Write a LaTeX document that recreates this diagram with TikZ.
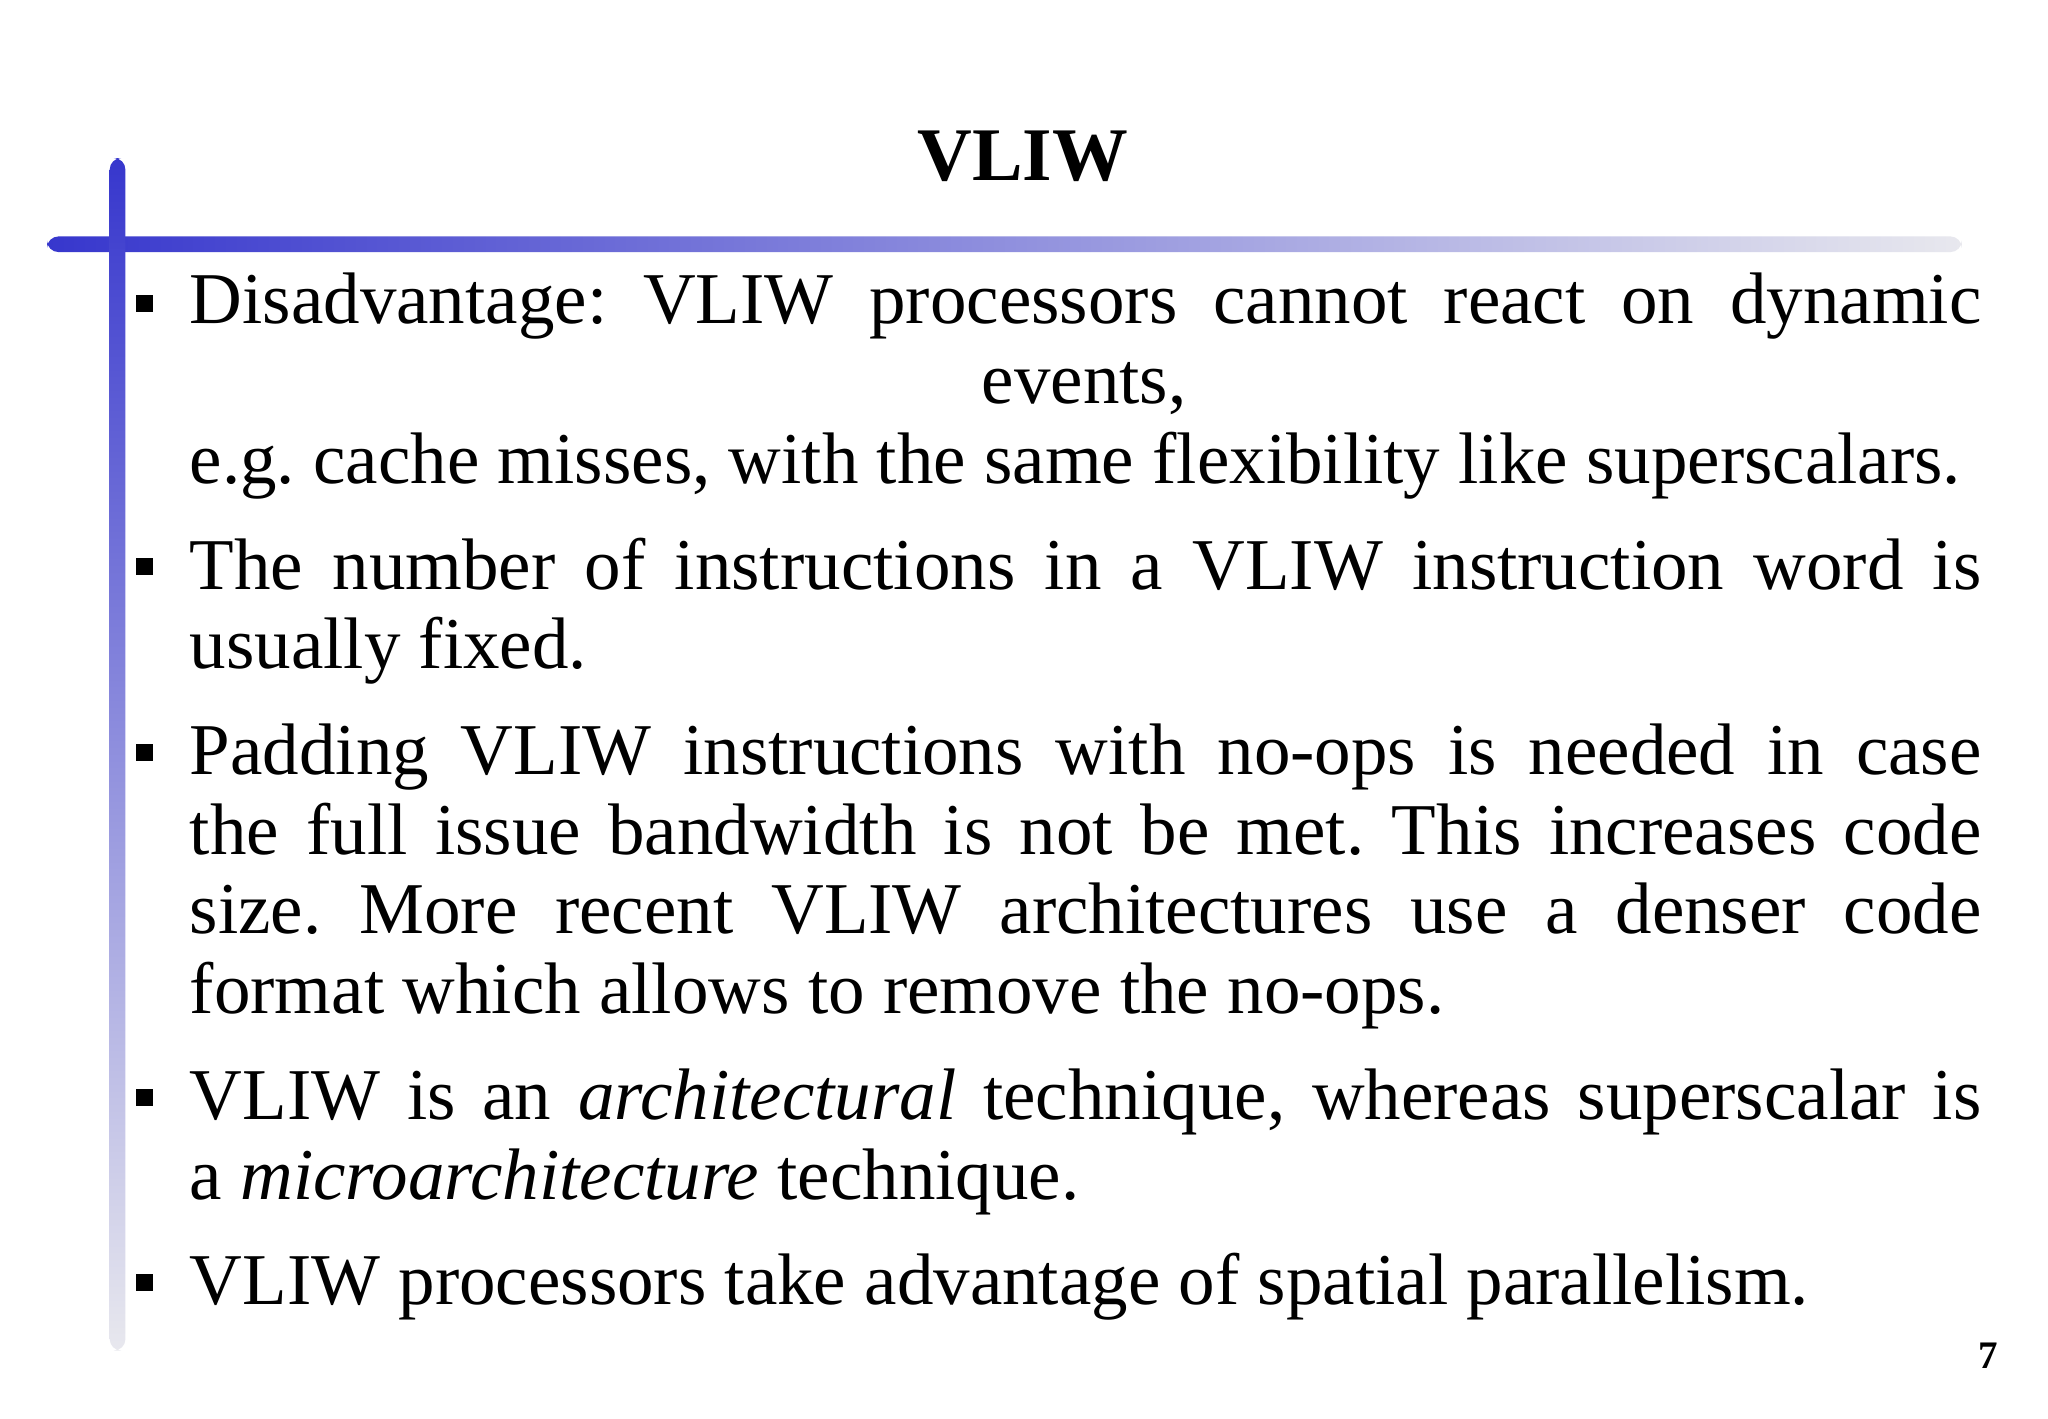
\documentclass[tikz,border=0pt]{standalone}
\usepackage{fontspec}
\setmainfont{Liberation Serif}
\definecolor{barblue}{RGB}{55,55,205}
\definecolor{barend}{RGB}{232,232,238}
\tikzset{ln/.style={anchor=base west, inner sep=0pt, font=\fontsize{31.8}{36}\selectfont},
bul/.style={fill=black, minimum size=0.26cm, inner sep=0pt}}
\newcommand{\jl}[1]{\hbox to 27.44cm{#1}}
\begin{document}
\frenchspacing
\begin{tikzpicture}[x=0.02cm,y=-0.02cm]
\useasboundingbox (0,0) rectangle (1568,1086);
\fill[white] (0,0) rectangle (1568,1086);
\shade[left color=barblue, right color=barend, rounded corners=5] (36,181) rectangle (1502,193);
\shade[top color=barblue, bottom color=barend, rounded corners=5] (84,121) rectangle (96,1034);
\node[font=\fontsize{33}{40}\selectfont\bfseries, anchor=base] (title) at (783,138) {VLIW};
\node[font=\fontsize{17}{20}\selectfont\bfseries, anchor=base] (pg) at (1522,1048) {7};
\node[bul] (b1) at (111,232) {};
\node[bul] (b2) at (111,434) {};
\node[bul] (b3) at (111,576) {};
\node[bul] (b4) at (111,840) {};
\node[bul] (b5) at (111,982) {};
\node[ln] (l1) at (145,248) {\jl{Disadvantage: VLIW processors cannot react on dynamic}};
\node[ln, anchor=base] (l2) at (830,309) {events,};
\node[ln] (l3) at (145,370) {e.g. cache misses, with the same flexibility like superscalars.};
\node[ln] (l4) at (145,451) {\jl{The number of instructions in a VLIW instruction word is}};
\node[ln] (l5) at (145,512) {usually fixed.};
\node[ln] (l6) at (145,593) {\jl{Padding VLIW instructions with no-ops is needed in case}};
\node[ln] (l7) at (145,654) {\jl{the full issue bandwidth is not be met. This increases code}};
\node[ln] (l8) at (145,715) {\jl{size. More recent VLIW architectures use a denser code}};
\node[ln] (l9) at (145,776) {format which allows to remove the no-ops.};
\node[ln] (l10) at (145,857) {\jl{VLIW is an \textit{architectural} technique, whereas superscalar is}};
\node[ln] (l11) at (145,918) {a \textit{microarchitecture} technique.};
\node[ln] (l12) at (145,999) {VLIW processors take advantage of spatial parallelism.};
\end{tikzpicture}
\end{document}
